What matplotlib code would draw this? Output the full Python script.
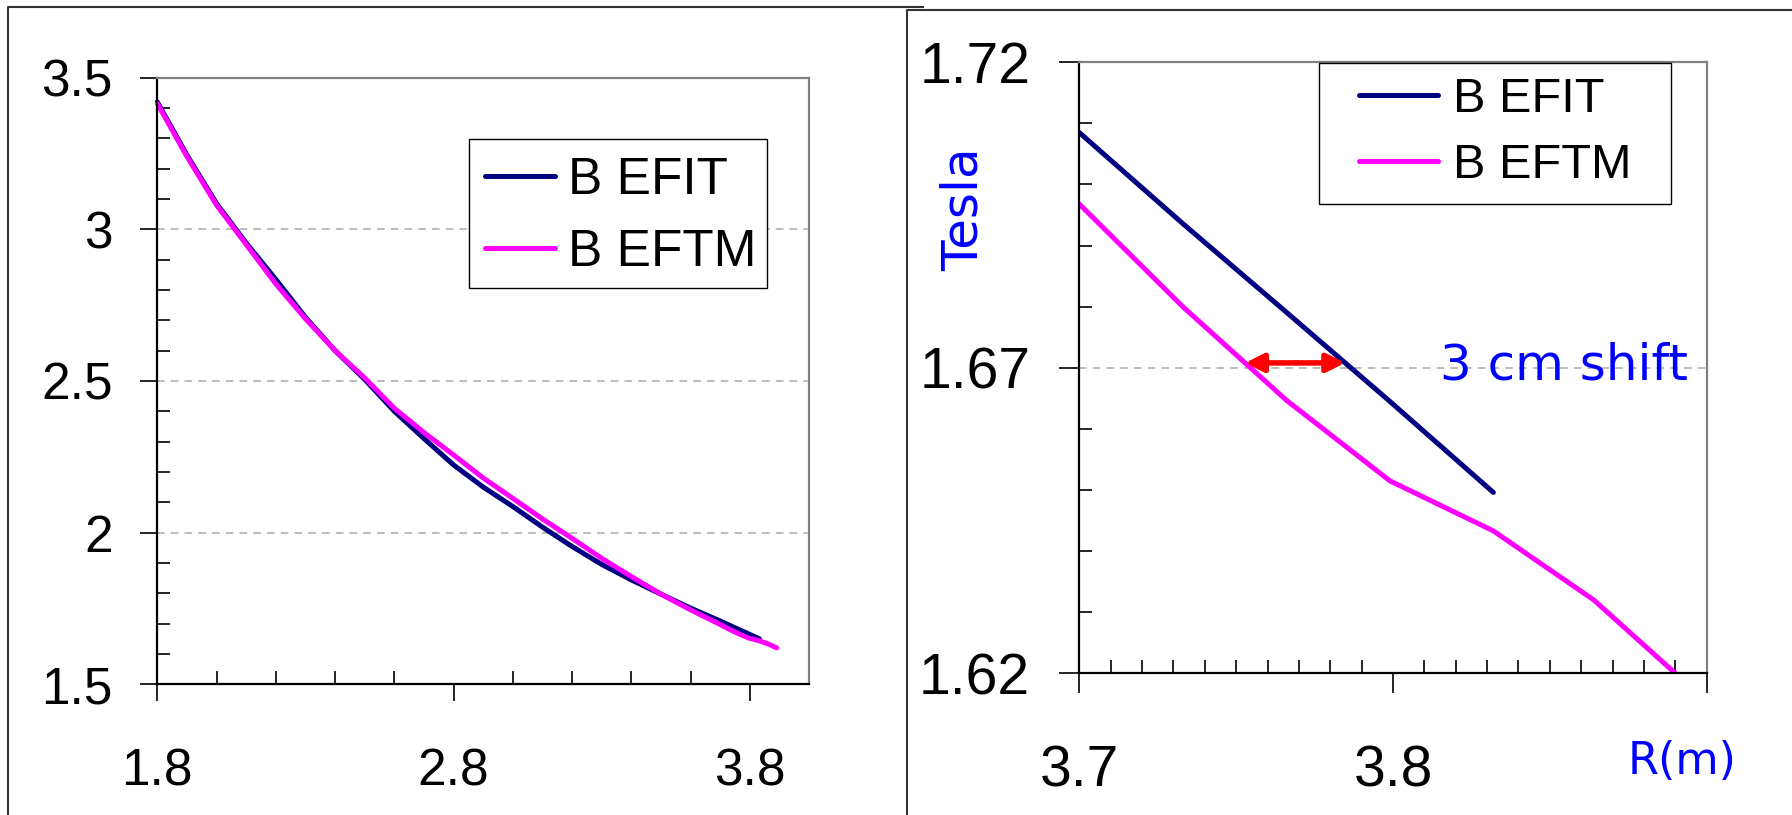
import numpy as np
import matplotlib.pyplot as plt
from matplotlib.lines import Line2D
from matplotlib.patches import Rectangle
from matplotlib.ticker import FixedLocator, FixedFormatter, MultipleLocator

plt.rcParams['font.family'] = ['Liberation Sans', 'DejaVu Sans']

# R (m): coarse part, fine part off the zoomed right panel
R_coarse = [1.8, 1.9, 2.0, 2.1, 2.2, 2.3, 2.4, 2.5, 2.6, 2.7, 2.8, 2.9,
            3.0, 3.1, 3.2, 3.3, 3.4, 3.5, 3.6]
R_fine = [3.7, 3.733, 3.766, 3.799, 3.832, 3.864, 3.89]

B_efit_coarse = [3.42, 3.245, 3.085, 2.955, 2.835, 2.71, 2.60, 2.505, 2.40, 2.31,
                 2.223, 2.15, 2.086, 2.018, 1.954, 1.895, 1.844, 1.797, 1.751]
B_efit_fine = [1.7085, 1.6936, 1.6791, 1.6645, 1.6496]

B_eftm_coarse = [3.415, 3.24, 3.08, 2.95, 2.82, 2.705, 2.60, 2.51, 2.41, 2.33,
                 2.256, 2.18, 2.113, 2.045, 1.981, 1.915, 1.855, 1.797, 1.745]
B_eftm_fine = [1.6968, 1.6800, 1.6647, 1.6515, 1.6433, 1.6320, 1.6200]

labels = ['B EFIT', 'B EFTM']
colors = ['#000080', '#FF00FF']

left_xticks = [1.8, 2.8, 3.8]
left_xticklabels = ['1.8', '2.8', '3.8']
left_yticks = [1.5, 2.0, 2.5, 3.0, 3.5]
left_yticklabels = ['1.5', '2', '2.5', '3', '3.5']
right_xticks = [3.7, 3.8, 3.9]
right_xticklabels = ['3.7', '3.8', '']
right_yticks = [1.62, 1.67, 1.72]
right_yticklabels = ['1.62', '1.67', '1.72']
shift_level = 1.6708

R = np.array(R_coarse + R_fine)
B_efit = np.array(B_efit_coarse + B_efit_fine)
B_eftm = np.array(B_eftm_coarse + B_eftm_fine)
R_efit = R[:len(B_efit)]

W, H = 1792, 815
LW = 3.6
fig = plt.figure(figsize=(W / 100, H / 100), dpi=100)


def fx(px):
    return px / W


def fy(py):
    return 1 - py / H


def axes_px(l, t, r, b):
    return fig.add_axes([l / W, 1 - b / H, (r - l) / W, (b - t) / H])


def style(ax, size, major_len, minor_len, xpad, ypad):
    for s in ['left', 'bottom']:
        ax.spines[s].set_color('black')
        ax.spines[s].set_linewidth(1.6)
    for s in ['top', 'right']:
        ax.spines[s].set_color('#808080')
        ax.spines[s].set_linewidth(1.6)
    ax.tick_params(which='major', direction='out', length=major_len, width=1.2,
                   labelsize=size)
    ax.tick_params(axis='x', which='major', pad=xpad)
    ax.tick_params(axis='y', which='major', pad=ypad)
    ax.tick_params(which='minor', direction='in', length=minor_len, width=1.2)
    ax.yaxis.grid(True, which='major', ls=(0, (5, 4)), color='#aaaaaa', lw=1.1)
    ax.set_axisbelow(True)


ax1 = axes_px(157.3, 77.7, 809.3, 684.3)
ax2 = axes_px(1079.3, 62.3, 1706.7, 673.3)

# left panel: full range
l1, = ax1.plot(R_efit, B_efit, color=colors[0], lw=LW, solid_capstyle='round',
               solid_joinstyle='round', clip_on=False)
l2, = ax1.plot(R, B_eftm, color=colors[1], lw=LW, solid_capstyle='round',
               solid_joinstyle='round', clip_on=False)
ax1.set_xlim(1.8, 4.0)
ax1.set_ylim(1.5, 3.5)
ax1.xaxis.set_major_locator(FixedLocator(left_xticks))
ax1.xaxis.set_major_formatter(FixedFormatter(left_xticklabels))
ax1.xaxis.set_minor_locator(MultipleLocator(0.2))
ax1.yaxis.set_major_locator(FixedLocator(left_yticks))
ax1.yaxis.set_major_formatter(FixedFormatter(left_yticklabels))
ax1.yaxis.set_minor_locator(MultipleLocator(0.1))
style(ax1, 37, 12.2, 9.1, 33, 20)

# right panel: zoom near 1.67 T
ax2.plot(R_efit, B_efit, color=colors[0], lw=LW, solid_capstyle='round',
         solid_joinstyle='round')
ax2.plot(R, B_eftm, color=colors[1], lw=LW, solid_capstyle='round',
         solid_joinstyle='round')
ax2.set_xlim(3.7, 3.9)
ax2.set_ylim(1.62, 1.72)
ax2.xaxis.set_major_locator(FixedLocator(right_xticks))
ax2.xaxis.set_major_formatter(FixedFormatter(right_xticklabels))
ax2.xaxis.set_minor_locator(MultipleLocator(0.01))
ax2.yaxis.set_major_locator(FixedLocator(right_yticks))
ax2.yaxis.set_major_formatter(FixedFormatter(right_yticklabels))
ax2.yaxis.set_minor_locator(MultipleLocator(0.01))
style(ax2, 41, 14.4, 9.4, 37, 21)

# shift arrow between the two curves at the same field
r_eftm = np.interp(shift_level, B_eftm[::-1], R[::-1])
r_efit = np.interp(shift_level, B_efit[::-1], R_efit[::-1])
ax2.annotate('', xy=(r_eftm, shift_level), xytext=(r_efit, shift_level),
             arrowprops=dict(arrowstyle='<|-|>,head_length=0.6,head_width=0.3',
                             color='#FF0000', lw=4, shrinkA=0, shrinkB=0,
                             mutation_scale=18))

# legends (frameless, with a drawn box)
fig.add_artist(Rectangle((fx(469.3), fy(288.3)), (766.7 - 469.3) / W,
                         (288.3 - 139.3) / H, transform=fig.transFigure,
                         facecolor='white', edgecolor='black', lw=1, zorder=1))
fig.add_artist(Rectangle((fx(1319), fy(204.3)), (1670.7 - 1319) / W,
                         (204.3 - 62.7) / H, transform=fig.transFigure,
                         facecolor='white', edgecolor='black', lw=1, zorder=1))
fig.legend([l1, l2], labels, loc='upper left', bbox_to_anchor=(fx(485), fy(156)),
           bbox_transform=fig.transFigure, frameon=False, borderpad=0,
           borderaxespad=0, handlelength=1.36, handletextpad=0.26,
           labelspacing=0.45, fontsize=37)
fig.legend([l1, l2], labels, loc='upper left', bbox_to_anchor=(fx(1359.3), fy(77.4)),
           bbox_transform=fig.transFigure, frameon=False, borderpad=0,
           borderaxespad=0, handlelength=1.61, handletextpad=0.31,
           labelspacing=0.42, fontsize=35)

# blue annotations
fig.text(fx(964), fy(209), 'Tesla', rotation=90, ha='center', va='center',
         color='#0000FF', fontsize=36, family='DejaVu Sans')
fig.text(fx(1440), fy(379), '3 cm shift', ha='left', va='baseline',
         color='#0000FF', fontsize=36, family='DejaVu Sans')
fig.text(fx(1681.7), fy(762), 'R(m)', ha='center', va='center',
         color='#0000FF', fontsize=32, family='DejaVu Sans')

# slide frame lines
fig.add_artist(Line2D([fx(8.3), fx(8.3), fx(923)], [fy(815), fy(7.3), fy(7.3)],
                      transform=fig.transFigure, color='#333333', lw=1.5))
fig.add_artist(Line2D([fx(906.7), fx(906.7), fx(1792)], [fy(815), fy(10), fy(10)],
                      transform=fig.transFigure, color='#333333', lw=1.5))

fig.savefig('out.png', dpi=100)
